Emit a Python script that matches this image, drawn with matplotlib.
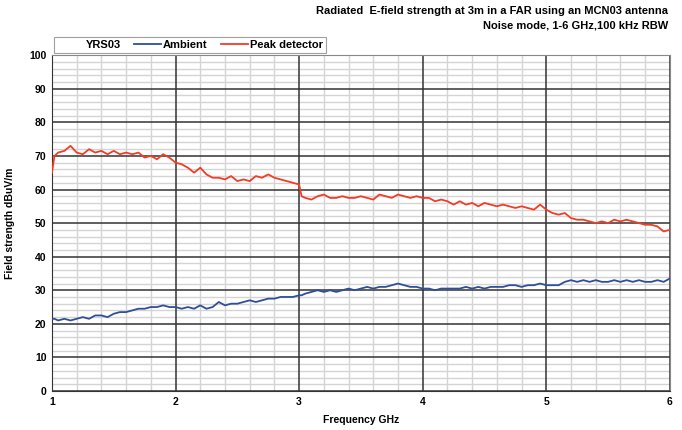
import matplotlib.pyplot as plt
from matplotlib.lines import Line2D
from matplotlib.ticker import MultipleLocator

# Частота, ГГц (шаг 0.05)
freq = [1.00, 1.02, 1.05, 1.10, 1.15, 1.20, 1.25, 1.30, 1.35, 1.40, 1.45, 1.50,
        1.55, 1.60, 1.65, 1.70, 1.75, 1.80, 1.85, 1.90, 1.95, 2.00, 2.05, 2.10,
        2.15, 2.20, 2.25, 2.30, 2.35, 2.40, 2.45, 2.50, 2.55, 2.60, 2.65, 2.70,
        2.75, 2.80, 2.85, 2.90, 2.95, 3.00, 3.02, 3.05, 3.10, 3.15, 3.20, 3.25,
        3.30, 3.35, 3.40, 3.45, 3.50, 3.55, 3.60, 3.65, 3.70, 3.75, 3.80, 3.85,
        3.90, 3.95, 4.00, 4.05, 4.10, 4.15, 4.20, 4.25, 4.30, 4.35, 4.40, 4.45,
        4.50, 4.55, 4.60, 4.65, 4.70, 4.75, 4.80, 4.85, 4.90, 4.95, 5.00, 5.05,
        5.10, 5.15, 5.20, 5.25, 5.30, 5.35, 5.40, 5.45, 5.50, 5.55, 5.60, 5.65,
        5.70, 5.75, 5.80, 5.85, 5.90, 5.95, 6.00]

# Пиковый детектор, dBuV/m
peak = [65, 70, 71, 71.5, 73, 71, 70.5, 72, 71, 71.5, 70.5, 71.5,
        70.5, 71, 70.5, 71, 69.5, 70, 69, 70.5, 69.5, 68, 67.5, 66.5,
        65, 66.5, 64.5, 63.5, 63.5, 63, 64, 62.5, 63, 62.5, 64, 63.5,
        64.5, 63.5, 63, 62.5, 62, 61.5, 58, 57.5, 57, 58, 58.5, 57.5,
        57.5, 58, 57.5, 57.5, 58, 57.5, 57, 58.5, 58, 57.5, 58.5, 58,
        57.5, 58, 57.5, 57.5, 56.5, 57, 56.5, 55.5, 56.5, 55.5, 56, 55,
        56, 55.5, 55, 55.5, 55, 54.5, 55, 54.5, 54, 55.5, 54, 53,
        52.5, 53, 51.5, 51, 51, 50.5, 50, 50.5, 50, 51, 50.5, 51,
        50.5, 50, 49.5, 49.5, 49, 47.5, 48]

# Фон (ambient), dBuV/m
ambient = [21.5, 21.5, 21, 21.5, 21, 21.5, 22, 21.5, 22.5, 22.5, 22, 23,
           23.5, 23.5, 24, 24.5, 24.5, 25, 25, 25.5, 25, 25, 24.5, 25,
           24.5, 25.5, 24.5, 25, 26.5, 25.5, 26, 26, 26.5, 27, 26.5, 27,
           27.5, 27.5, 28, 28, 28, 28.5, 28.5, 29, 29.5, 30, 29.5, 30,
           29.5, 30, 30.5, 30, 30.5, 31, 30.5, 31, 31, 31.5, 32, 31.5,
           31, 31, 30.5, 30.5, 30, 30.5, 30.5, 30.5, 30.5, 31, 30.5, 31,
           30.5, 31, 31, 31, 31.5, 31.5, 31, 31.5, 31.5, 32, 31.5, 31.5,
           31.5, 32.5, 33, 32.5, 33, 32.5, 33, 32.5, 32.5, 33, 32.5, 33,
           32.5, 33, 32.5, 32.5, 33, 32.5, 33.5]

plt.rcParams['font.family'] = ['Liberation Sans', 'DejaVu Sans']

fig = plt.figure(figsize=(6.82, 4.30), dpi=100)
ax = fig.add_axes([0.0762, 0.0907, 0.906, 0.781])

ax.plot(freq, ambient, color='#2f4f96', lw=1.3, zorder=3)
ax.plot(freq, peak, color='#f23c26', lw=1.3, zorder=3)

ax.set_xlim(1, 6)
ax.set_ylim(0, 100)
ax.xaxis.set_major_locator(MultipleLocator(1))
ax.xaxis.set_minor_locator(MultipleLocator(0.2))
ax.yaxis.set_major_locator(MultipleLocator(10))
ax.yaxis.set_minor_locator(MultipleLocator(2))
# тонкая сетка через grid, толстая поверх неё
ax.grid(which='minor', color='#d4d4d4', lw=1.0)
ax.set_axisbelow(True)
for t in ax.get_xticks():
    ax.axvline(t, color='#333333', lw=1.1, zorder=1)
for t in ax.get_yticks():
    ax.axhline(t, color='#333333', lw=1.1, zorder=1)
ax.tick_params(which='both', length=0, labelsize=7.5, pad=4)
for lab in ax.get_xticklabels() + ax.get_yticklabels():
    lab.set_fontweight('bold')
for s in ax.spines.values():
    s.set_color('#888888')
ax.spines['left'].set_color('#333333')
ax.spines['bottom'].set_color('#333333')

ax.set_xlabel('Frequency GHz', fontsize=7.5, fontweight='bold', labelpad=6)
ax.set_ylabel('Field strength dBuV/m', fontsize=7.5, fontweight='bold', labelpad=10)

# Легенда над графиком
handles = [Line2D([], [], color='none'),
           Line2D([], [], color='#2f4f96', lw=1.3),
           Line2D([], [], color='#f23c26', lw=1.3)]
leg = ax.legend(handles, ['YRS03', 'Ambient', 'Peak detector'], ncol=3,
                loc='lower left', bbox_to_anchor=(0.0, 1.0), frameon=True,
                fancybox=False, borderpad=0.25, handlelength=2.4,
                handletextpad=0.2, columnspacing=1.2, borderaxespad=0.2,
                prop={'size': 8, 'weight': 'bold'})
leg.get_frame().set_edgecolor('#888888')
leg.get_frame().set_linewidth(0.8)

fig.text(0.98, 0.975, 'Radiated  E-field strength at 3m in a FAR using an MCN03 antenna',
         ha='right', va='center', fontsize=8, fontweight='bold')
fig.text(0.98, 0.94, 'Noise mode, 1-6 GHz,100 kHz RBW',
         ha='right', va='center', fontsize=8, fontweight='bold')

fig.savefig('out.png', dpi=100)
